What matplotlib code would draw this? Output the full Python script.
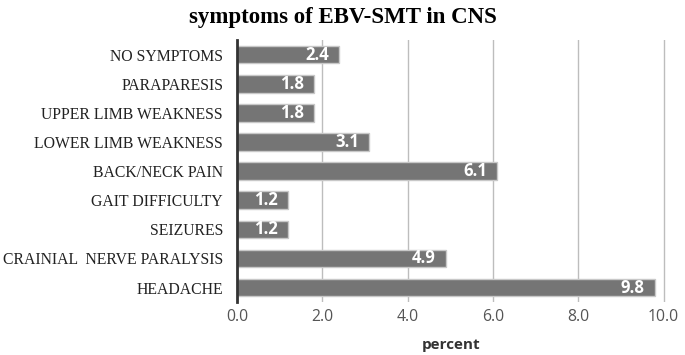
import matplotlib.pyplot as plt
import numpy as np

symptoms = [
    "NO SYMPTOMS",
    "PARAPARESIS",
    "UPPER LIMB WEAKNESS",
    "LOWER LIMB WEAKNESS",
    "BACK/NECK PAIN",
    "GAIT DIFFICULTY",
    "SEIZURES",
    "CRAINIAL  NERVE PARALYSIS",
    "HEADACHE",
]
percent = [2.4, 1.8, 1.8, 3.1, 6.1, 1.2, 1.2, 4.9, 9.8]
xticks = [0, 2, 4, 6, 8, 10]

fig = plt.figure(figsize=(6.85, 3.55), dpi=100)
ax = fig.add_axes([0.346, 0.149, 0.626, 0.738])

y = np.arange(len(symptoms))
bars = ax.barh(y, percent, height=0.6, color="#757575", edgecolor="#c8c8c8",
               linewidth=1.0, zorder=3)

for b, v in zip(bars, percent):
    ax.text(b.get_width() - 0.24, b.get_y() + b.get_height() / 2, f"{v:.1f}",
            ha="right", va="center", color="white", fontsize=12,
            fontweight="bold", family="Open Sans", zorder=4)

ax.set_ylim(len(symptoms) - 0.5, -0.5)
ax.set_xlim(0, 10.05)
ax.set_yticks(y)
ax.set_yticklabels(symptoms, family="Liberation Serif", fontsize=11.3, color="#222222")
ax.set_xticks(xticks)
ax.set_xticklabels([f"{t:.1f}" for t in xticks], family="Open Sans", fontsize=11.3,
                   color="#555555")
ax.tick_params(length=0, pad=5)
ax.tick_params(axis="y", pad=10)

ax.grid(axis="x", color="#bdbdbd", linewidth=1.0, zorder=0)
for s in ["top", "right", "bottom"]:
    ax.spines[s].set_visible(False)
ax.spines["left"].set_color("#333333")
ax.spines["left"].set_linewidth(2)
ax.spines["left"].set_zorder(5)

ax.set_xlabel("percent", family="Open Sans", fontsize=11, fontweight="bold",
              color="#333333", labelpad=9)
fig.text(0.5, 0.95, "symptoms of EBV-SMT in CNS", ha="center", va="center",
         family="Liberation Serif", fontsize=16.5, fontweight="bold")

fig.savefig("out.png", dpi=100)
